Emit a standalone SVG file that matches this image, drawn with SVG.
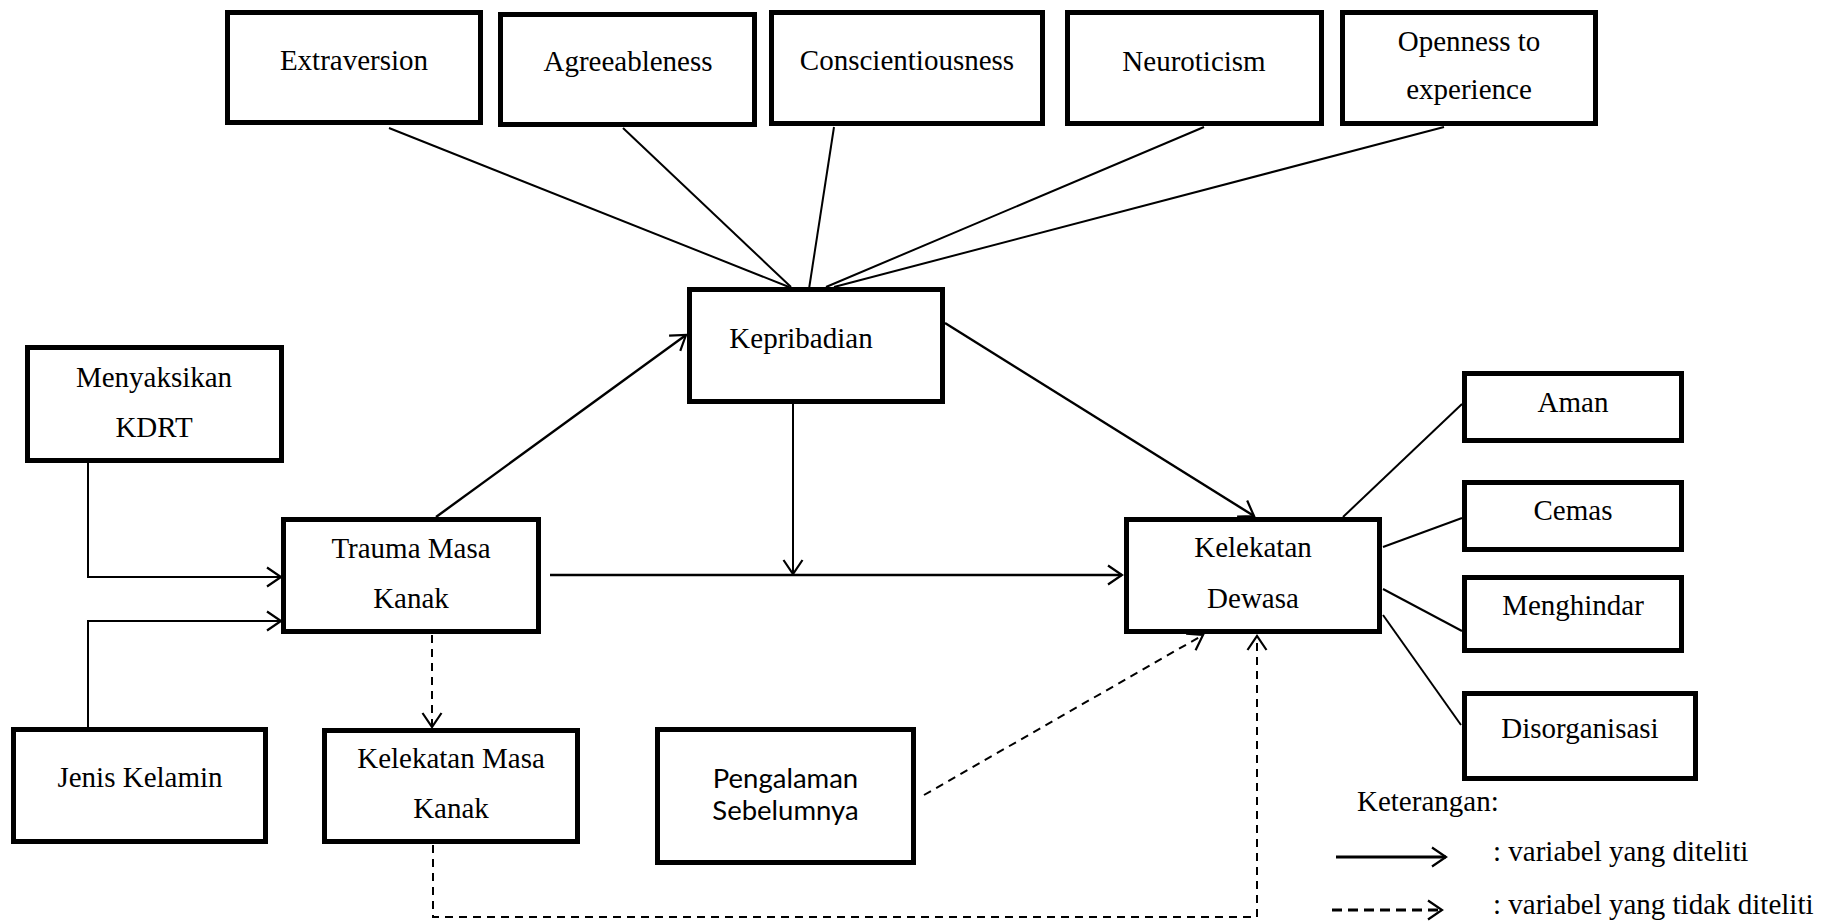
<svg xmlns="http://www.w3.org/2000/svg" width="1822" height="921" viewBox="0 0 1822 921">
<style>
.box{fill:#fff;stroke:#000;stroke-width:5}
.t{font-family:"Liberation Serif","Times New Roman",serif;font-size:29px;fill:#000;text-anchor:middle}
.s{font-family:Lato,"Open Sans",sans-serif;font-size:27.5px;fill:#000;text-anchor:middle}
.ln{fill:none;stroke:#000;stroke-width:2}
.ar{fill:none;stroke:#000;stroke-width:2.4}
.dl{fill:none;stroke:#000;stroke-width:2;stroke-dasharray:8 6}
</style>
<defs>
<marker id="ah" markerUnits="userSpaceOnUse" viewBox="-2 -12 20 24" markerWidth="20" markerHeight="24" refX="14" refY="0" orient="auto">
<path d="M0,-9.5 L14,0 L0,9.5" fill="none" stroke="#000" stroke-width="2.2"/>
</marker>
</defs>
<rect width="1822" height="921" fill="#fff"/>
<g id="connectors">
<line class="ln" x1="389" y1="128" x2="789" y2="287"/>
<line class="ln" x1="623" y1="128" x2="791" y2="287"/>
<line class="ln" x1="834" y1="127" x2="809" y2="289"/>
<line class="ln" x1="1204" y1="127" x2="826" y2="287"/>
<line class="ln" x1="1444" y1="127" x2="834" y2="287"/>
<polyline class="ln" points="88,463 88,577 281,577" marker-end="url(#ah)"/>
<polyline class="ln" points="88,728 88,621 281,621" marker-end="url(#ah)"/>
<line class="ar" x1="436" y1="517" x2="686" y2="335" marker-end="url(#ah)"/>
<line class="ln" x1="793" y1="404" x2="793" y2="574" marker-end="url(#ah)"/>
<line class="ar" x1="550" y1="575" x2="1122" y2="575" marker-end="url(#ah)"/>
<line class="ar" x1="945" y1="323" x2="1254" y2="516" marker-end="url(#ah)"/>
<line class="ln" x1="1343" y1="517" x2="1462" y2="404"/>
<line class="ln" x1="1383" y1="547" x2="1462" y2="518"/>
<line class="ln" x1="1383" y1="589" x2="1462" y2="631"/>
<line class="ln" x1="1383" y1="615" x2="1461" y2="725"/>
<line class="dl" x1="432" y1="635" x2="432" y2="727" marker-end="url(#ah)"/>
<polyline class="dl" points="433,845 433,917 1257,917 1257,636" marker-end="url(#ah)"/>
<line class="dl" x1="924" y1="795" x2="1203" y2="635" marker-end="url(#ah)"/>
<line class="ar" x1="1336" y1="857" x2="1446" y2="857" style="stroke-width:3" marker-end="url(#ah)"/>
<line class="dl" x1="1332" y1="910" x2="1442" y2="910" style="stroke-width:3;stroke-dasharray:10 6" marker-end="url(#ah)"/>
</g>
<g id="n-extraversion"><rect class="box" x="227.5" y="12.5" width="253" height="110"/><text class="t" x="354" y="70">Extraversion</text></g>
<g id="n-agreeableness"><rect class="box" x="500.5" y="14.5" width="254" height="110"/><text class="t" x="628" y="71">Agreeableness</text></g>
<g id="n-conscientiousness"><rect class="box" x="771.5" y="12.5" width="271" height="111"/><text class="t" x="907" y="70">Conscientiousness</text></g>
<g id="n-neuroticism"><rect class="box" x="1067.5" y="12.5" width="254" height="111"/><text class="t" x="1194" y="71">Neuroticism</text></g>
<g id="n-openness"><rect class="box" x="1342.5" y="12.5" width="253" height="111"/><text class="t" x="1469" y="51">Openness to</text><text class="t" x="1469" y="99">experience</text></g>
<g id="n-kepribadian"><rect class="box" x="689.5" y="289.5" width="253" height="112"/><text class="t" x="801" y="348">Kepribadian</text></g>
<g id="n-menyaksikan"><rect class="box" x="27.5" y="347.5" width="254" height="113"/><text class="t" x="154" y="387">Menyaksikan</text><text class="t" x="154" y="437">KDRT</text></g>
<g id="n-trauma"><rect class="box" x="283.5" y="519.5" width="255" height="112"/><text class="t" x="411" y="558">Trauma Masa</text><text class="t" x="411" y="608">Kanak</text></g>
<g id="n-kelekatan-dewasa"><rect class="box" x="1126.5" y="519.5" width="253" height="112"/><text class="t" x="1253" y="557">Kelekatan</text><text class="t" x="1253" y="608">Dewasa</text></g>
<g id="n-aman"><rect class="box" x="1464.5" y="373.5" width="217" height="67"/><text class="t" x="1573" y="412">Aman</text></g>
<g id="n-cemas"><rect class="box" x="1464.5" y="482.5" width="217" height="67"/><text class="t" x="1573" y="520">Cemas</text></g>
<g id="n-menghindar"><rect class="box" x="1464.5" y="577.5" width="217" height="73"/><text class="t" x="1573" y="615">Menghindar</text></g>
<g id="n-disorganisasi"><rect class="box" x="1464.5" y="693.5" width="231" height="85"/><text class="t" x="1580" y="738">Disorganisasi</text></g>
<g id="n-jenis-kelamin"><rect class="box" x="13.5" y="729.5" width="252" height="112"/><text class="t" x="140" y="787">Jenis Kelamin</text></g>
<g id="n-kelekatan-masa"><rect class="box" x="324.5" y="730.5" width="253" height="111"/><text class="t" x="451" y="768">Kelekatan Masa</text><text class="t" x="451" y="818">Kanak</text></g>
<g id="n-pengalaman"><rect class="box" x="657.5" y="729.5" width="256" height="133"/><text class="s" x="785.5" y="788">Pengalaman</text><text class="s" x="785.5" y="820">Sebelumnya</text></g>
<g id="legend">
<text class="t" x="1357" y="811" style="text-anchor:start">Keterangan:</text>
<text class="t" x="1493" y="861" style="text-anchor:start">: variabel yang diteliti</text>
<text class="t" x="1493" y="914" style="text-anchor:start">: variabel yang tidak diteliti</text>
</g>
</svg>
